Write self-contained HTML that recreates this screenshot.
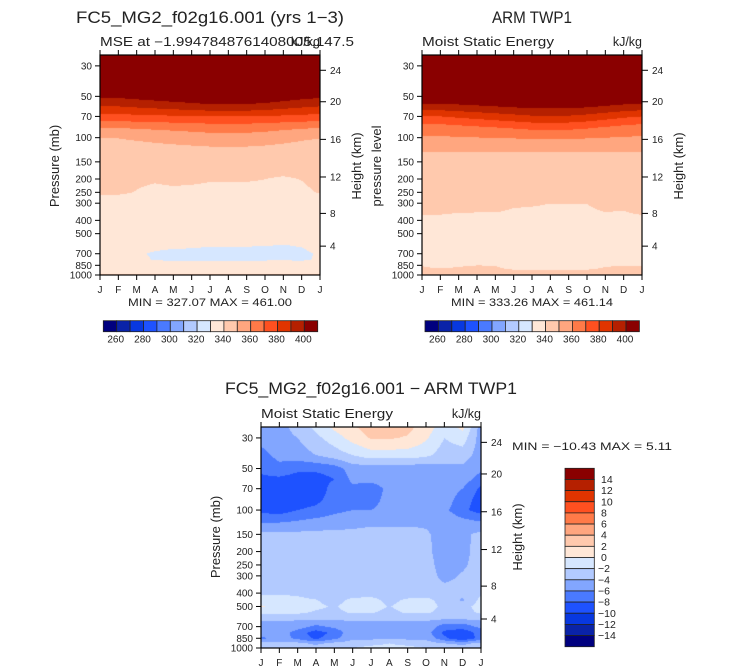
<!DOCTYPE html>
<html><head><meta charset="utf-8">
<style>
html,body{margin:0;padding:0;background:#fff;}
#wrap{position:relative;width:733px;height:672px;overflow:hidden;font-family:"Liberation Sans",sans-serif;}
canvas{position:absolute;}
svg{position:absolute;left:0;top:0;}
svg text{font-family:"Liberation Sans",sans-serif;fill:#222;}
</style></head>
<body>
<div id="wrap">
<canvas id="c0"></canvas>
<canvas id="c1"></canvas>
<canvas id="c2"></canvas>
<svg id="ov" width="733" height="672"></svg>
</div>
<script>
const months = ["J","F","M","A","M","J","J","A","S","O","N","D","J"];
const pTicks = [30,50,70,100,150,200,250,300,400,500,700,850,1000];
const hTicks = [4,8,12,16,20,24];
const topLevels = [260,270,280,290,300,310,320,330,340,350,360,370,380,390,400];
const topLabels = [260,280,300,320,340,360,380,400];
const diffLevels = [-14,-12,-10,-8,-6,-4,-2,0,2,4,6,8,10,12,14];
const palette = ["#00007f","#0a23a8","#0838e0","#1e52ff","#4a7aff","#82a6ff","#b2caff","#d6e7ff","#ffe7d7","#ffc9ad","#ffa67f","#ff7a48","#ff5020","#e03400","#b52000","#8a0000"];

const modelP = [1000,925,850,775,700,600,500,400,300,250,200,150,125,100,85,70,60,50,40,30,25];
const modelRows = [
[342,342,342,342,342,342,342,342,342,342,342,342,342],
[335,335,335,335,335,335,335,335,335,335,335,335,335],
[332,332,332,332,332,332,332,332,332,332,332,332,332],
[331,331,330.8,329.8,329.6,329.6,329.6,329.6,329.6,329.7,329.8,329.6,330.4],
[331,331,330.5,329.6,329.3,329.3,329,329,329,329,329,329.3,330.4],
[331.5,331.5,331.5,331,330.6,330.5,330.3,330.3,330.3,330.2,330,330.3,331.5],
[333,333,333,333,333,333,333,333,333,333,333,333,333],
[335,335,335,335,335,335,335,335,335,335,335,335,335],
[337,337,337,337,337,337,337,337,337,337,337,337,337],
[340.85,340.85,339.8,339,339,339,339,339,339,339,339,339,340.37],
[341.5,341.5,340.8,340.48,341.1,340.75,340.28,340.28,340.28,340.02,339.4,340.15,341.5],
[343,343,343,343,343,343,343,343,343,343,343,343,343],
[345,345,345.4,345.8,346.2,346.6,347,347,347,346.6,346,345.4,345],
[350.3,350.3,351.4,352.6,353.8,354.9,356,356,356,354.9,353.2,351.4,350.3],
[360,360,360.8,361.6,362.4,363.2,364,364,364,363.2,362,360.8,360],
[377,377,377.6,378.2,378.8,379.4,380,380,380,379.4,378.5,377.6,377],
[389,389,390.4,391.8,393.2,394.6,396,396,396,394.6,392.5,390.4,389],
[402,402,403.6,405.2,406.8,408.4,410,410,410,408.4,406,403.6,402],
[425,425,426,427,428,429,430,430,430,429,427.5,426,425],
[455,455,455,455,455,455,455,455,455,455,455,455,455],
[470,470,470,470,470,470,470,470,470,470,470,470,470]];

const obsP = [1000,925,850,775,700,600,500,400,300,250,200,150,125,100,85,70,60,50,40,30,25];
const obsRows = [
[343,343,343,343,343,343,343,343,343,343,343,343,343],
[341,341,341,341,341,340.4,340.4,340.4,340.4,340.4,341,341,341],
[339.89,338.37,339.59,339.99,339.89,337.5,337.5,337.5,337.5,337.5,339.6,339.89,339.89],
[336,336,336,336,336,336,336,336,336,336,336,336,336],
[335.5,335.5,335.5,335.5,335.5,335.5,335.5,335.5,335.5,335.5,335.5,335.5,335.5],
[336,336,336,336,336,336,336,336,336,336,336,336,336],
[337,337,337,337,337,337,337,337,337,337,337,337,337],
[339,339,339,339,339,339,339,339,339,339,339,339,339],
[342.2,342.0,341.25,341.17,341.17,340.39,340.25,340.02,340.06,340.02,341.04,340.79,342.2],
[343,343,343,343,343,343,343,343,343,343,343,343,343],
[344.5,344.5,344.5,344.5,344.5,344.5,344.5,344.5,344.5,344.5,344.5,344.5,344.5],
[346,346,346,346,346,346,346,346,346,346,346,346,346],
[350.2,350.2,350.2,350.2,350.2,350.2,350.2,350.2,350.2,350.2,350.2,350.2,350.2],
[359,359,359.4,359.8,360.2,360.6,361,361,361,360.6,360,359.4,359],
[365,365,366.4,367.8,369.2,370.6,372,372,372,370.6,368.5,366.4,365],
[380,380,381.8,383.6,385.4,387.2,389,389,389,387.2,384.5,381.8,380],
[395,395,396.3,397.6,398.9,400.2,401.5,401.5,401.5,400.2,398.25,396.3,395],
[410,410,411,412,413,414,415,415,415,414,412.5,411,410],
[430,430,430.4,430.8,431.2,431.6,432,432,432,431.6,431,430.4,430],
[458,458,458,458,458,458,458,458,458,458,458,458,458],
[470,470,470,470,470,470,470,470,470,470,470,470,470]];

const diffP = [1000,925,850,775,700,650,600,550,500,450,400,300,250,200,150,125,100,85,70,60,50,40,30,25];
const diffRows = [
[-3,-3,-3,-3,-2,-2,-1.5,-1.5,-1.5,-2,-3,-3,-3],
[-3.5,-3.5,-3.5,-4.5,-3.5,-3,-2.5,-2,-2.5,-3,-4,-4.5,-3.5],
[-6.5,-5,-6.5,-8.5,-6.5,-4.5,-4.5,-4.5,-4.5,-4.5,-7.5,-10,-7],
[-5,-4.8,-7,-9,-7.5,-4.5,-5,-4.5,-4.5,-5,-8.5,-9.5,-7],
[-4.5,-4.5,-5,-6.5,-5.5,-4.5,-5,-4.5,-4.5,-4.5,-7,-7,-5.5],
[-4.3,-4.3,-4.6,-5,-4.8,-4.3,-4.5,-4.3,-4.3,-4.3,-5.5,-5.5,-4.5],
[-3,-3,-3,-3,-3,-3,-3,-3,-3,-3,-3,-3,-3],
[-1.4,-1.4,-1.6,-2.2,-2.5,-1.7,-1.8,-2.5,-1.7,-1.7,-2.6,-2.8,-1.6],
[0.3,-1.0,-1.2,-1.6,-2.2,-1.1,-1.2,-2.1,-1.2,-1.1,-2.5,-2.8,-1.1],
[-1.2,-1.2,-1.5,-1.9,-2.8,-1.5,-1.4,-2.5,-1.7,-1.4,-2.8,-4.3,-1.4],
[-2.2,-2.2,-2.4,-3,-3,-3,-2.8,-3,-3,-3,-3.3,-3.5,-2.4],
[-3,-3,-3,-3,-3,-3,-3,-3,-3,-3.2,-4.5,-3.8,-3],
[-3,-3,-3,-3,-3,-3,-3,-3,-3,-3.3,-4.8,-4.3,-3.2],
[-3,-3,-3,-3,-3,-3,-3,-3,-3,-3.5,-5,-4.5,-3.3],
[-3.5,-3.5,-3.5,-3.5,-3.5,-3.5,-3.5,-3.5,-3.5,-3.8,-4.6,-4.4,-3.5],
[-6,-5.8,-5.5,-5,-4.8,-4.5,-4.2,-4.2,-4.2,-4.2,-4.5,-5,-5.5],
[-8.5,-9,-8,-7.5,-6.5,-6,-6,-5.5,-5,-5,-5.5,-7.5,-9],
[-9,-9,-9,-8.5,-7,-6.5,-6.5,-5.5,-5,-5,-5,-7,-9],
[-9,-9,-9.5,-9.5,-7,-6.5,-7,-5.5,-5,-5,-5,-6,-8.5],
[-8.5,-8.5,-9,-9,-8,-5.5,-5.5,-5,-5,-5,-5,-5,-7],
[-7.5,-6.5,-7.5,-7.5,-7,-5,-5,-5,-5,-5.5,-4.5,-4.5,-5.5],
[-6.5,-5.5,-5,-4,-3,-2,-1,-1,-1,-1.5,-3,-3,-5],
[-5.5,-5,-4,-2.5,-1,0.8,2.2,2.2,1.8,0.3,-2,-1,-5],
[-5,-5,-3,-1.5,0.5,1.8,2.8,2.8,2.6,1,-1,0.5,-5]];

const P_TOP = 25;
const NS = "http://www.w3.org/2000/svg";
const ov = document.getElementById('ov');
function el(tag, attrs, parent){ const e=document.createElementNS(NS,tag); for(const k in attrs) e.setAttribute(k,attrs[k]); (parent||ov).appendChild(e); return e; }
function txt(s, attrs){ const t=el('text',attrs); t.textContent=s; return t; }
function hexRGB(h){ return [parseInt(h.substr(1,2),16),parseInt(h.substr(3,2),16),parseInt(h.substr(5,2),16)]; }
const palRGB = palette.map(hexRGB);
function zToP(km){ const z=km*1000; if(z<=11000) return 1013.25*Math.pow(1-2.25577e-5*z,5.25588); if(z<=20000) return 226.32*Math.exp(-(z-11000)/6341.62); return 56*Math.exp(-(z-20000)/7270); }

function makePlot(cfg){
  const {x0,y0,w,h} = cfg;
  const lt = Math.log10(P_TOP), lb = 3;
  const yOf = p => y0 + (Math.log10(p)-lt)/(lb-lt)*h;
  const xOf = m => x0 + m/(months.length-1)*w;
  const cv = document.getElementById(cfg.canvas);
  cv.width=w; cv.height=h; cv.style.left=x0+'px'; cv.style.top=y0+'px';
  const ctx = cv.getContext('2d'); const img = ctx.createImageData(w,h);
  const lp = cfg.plev.map(p=>Math.log10(p));
  for(let j=0;j<h;j++){
    const L = lt + (j+0.5)/h*(lb-lt);
    let k=0; while(k<lp.length-2 && lp[k+1]>L) k++;
    let fy = (lp[k]-L)/(lp[k]-lp[k+1]); fy=Math.max(0,Math.min(1,fy));
    for(let i=0;i<w;i++){
      const m = (i+0.5)/w*(months.length-1);
      let c=Math.min(Math.floor(m),months.length-2); const fx=m-c;
      const r0=cfg.rows[k], r1=cfg.rows[k+1];
      const a=r0[c]+(r0[c+1]-r0[c])*fx, b=r1[c]+(r1[c+1]-r1[c])*fx;
      const v=a+(b-a)*fy;
      let idx=0; while(idx<cfg.levels.length && v>=cfg.levels[idx]) idx++;
      const col=palRGB[idx]; const o=(j*w+i)*4;
      img.data[o]=col[0]; img.data[o+1]=col[1]; img.data[o+2]=col[2]; img.data[o+3]=255;
    }
  }
  ctx.putImageData(img,0,0);
  const fr = el('rect',{x:x0,y:y0,width:w,height:h,fill:'none',stroke:'#000','stroke-width':1.2});
  
  
  months.forEach((mn,i)=>{
    const X=xOf(i);
    const tb=el('line',{x1:X,x2:X,y1:y0+h,y2:y0+h+5,stroke:'#000'});
    
    
    const tt=el('line',{x1:X,x2:X,y1:y0,y2:y0-5,stroke:'#000'});
    
    
    const t=txt(mn,{x:X,y:y0+h+18,'font-size':10,'text-anchor':'middle'});
    
    
  });
  pTicks.forEach(p=>{
    const Y=yOf(p);
    const tl=el('line',{x1:x0-5,x2:x0,y1:Y,y2:Y,stroke:'#000'});
    
    
    const t=txt(String(p),{x:x0-8,y:Y+3.5,'font-size':10,'text-anchor':'end'});
    
    
  });
  hTicks.forEach(z=>{
    const Y=yOf(zToP(z));
    const tl=el('line',{x1:x0+w,x2:x0+w+6,y1:Y,y2:Y,stroke:'#000'});
    
    
    const t=txt(String(z),{x:x0+w+10,y:Y+3.5,'font-size':10});
    
    
  });
  const lt1=txt(cfg.ylab,{x:0,y:0,'font-size':13,'text-anchor':'middle',transform:`translate(${x0-41},${cfg.ylabY}) rotate(-90)`});
  
  
  const rt=txt('Height (km)',{x:0,y:0,'font-size':13,'text-anchor':'middle',transform:`translate(${x0+w+41},${cfg.ylabY}) rotate(-90)`});
  
  
  const st=txt(cfg.sub,{x:x0,y:y0-9,'font-size':12.5,textLength:cfg.subLen,lengthAdjust:'spacingAndGlyphs'});
  
  
  const un=txt('kJ/kg',{x:x0+w,y:y0-9,'font-size':12.5,'text-anchor':'end'});
  
  
  const ti=txt(cfg.title,{x:cfg.titleX,y:cfg.titleY,'font-size':16.5,'text-anchor':'middle',textLength:cfg.titleLen,lengthAdjust:'spacingAndGlyphs',fill:'#333'});
  
  
}

makePlot({id:'model',canvas:'c0',x0:100,y0:55,w:220,h:220,plev:modelP,rows:modelRows,levels:topLevels,
  ylab:'Pressure (mb)',ylabY:166,sub:'MSE at \u22121.9947848761408005,147.5',subLen:254,title:'FC5_MG2_f02g16.001 (yrs 1\u22123)',titleX:210,titleY:23,titleLen:268});
makePlot({id:'obs',canvas:'c1',x0:422,y0:55,w:220,h:220,plev:obsP,rows:obsRows,levels:topLevels,
  ylab:'pressure level',ylabY:166,sub:'Moist Static Energy',subLen:132,title:'ARM TWP1',titleX:532,titleY:23,titleLen:80});
makePlot({id:'diff',canvas:'c2',x0:261,y0:427,w:220,h:221,plev:diffP,rows:diffRows,levels:diffLevels,
  ylab:'Pressure (mb)',ylabY:537,sub:'Moist Static Energy',subLen:132,title:'FC5_MG2_f02g16.001 \u2212 ARM TWP1',titleX:371,titleY:394,titleLen:292});

const mm1=txt('MIN = 327.07 MAX = 461.00',{x:210,y:306,'font-size':11,'text-anchor':'middle',textLength:164,lengthAdjust:'spacingAndGlyphs'});


const mm2=txt('MIN = 333.26 MAX = 461.14',{x:532,y:306,'font-size':11,'text-anchor':'middle',textLength:162,lengthAdjust:'spacingAndGlyphs'});


const mm3=txt('MIN = \u221210.43 MAX =    5.11',{x:512,y:450,'font-size':11,textLength:160,lengthAdjust:'spacingAndGlyphs'});



function hbar(x0,name){
  const y0=320.7, w=214.4, h=11, n=palette.length, bw=w/n;
  palette.forEach((c,i)=>{
    const r=el('rect',{x:x0+i*bw,y:y0,width:bw,height:h,fill:c,stroke:'#222','stroke-width':0.8});
    
    
  });
  topLevels.forEach((lv,i)=>{
    if(topLabels.indexOf(lv)<0) return;
    const t=txt(String(lv),{x:x0+(i+1)*bw-1,y:y0+h+11,'font-size':10,'text-anchor':'middle'});
    
    
  });
}
hbar(103.3,'model-colorbar');
hbar(425,'obs-colorbar');
(function(){
  const x0=565, y0=468.3, w=29.3, h=178.4, n=palette.length, bh=h/n;
  for(let i=0;i<n;i++){
    const r=el('rect',{x:x0,y:y0+i*bh,width:w,height:bh,fill:palette[n-1-i],stroke:'#222','stroke-width':0.8});
    
    
  }
  const rev=diffLevels.slice().reverse();
  rev.forEach((lv,i)=>{
    const s = lv<0 ? '\u2212'+Math.abs(lv) : String(lv);
    const t=txt(s,{x:lv<0?598:601,y:y0+(i+1)*bh+3.5,'font-size':10.5});
    
    
  });
})();
</script>
</body></html>
